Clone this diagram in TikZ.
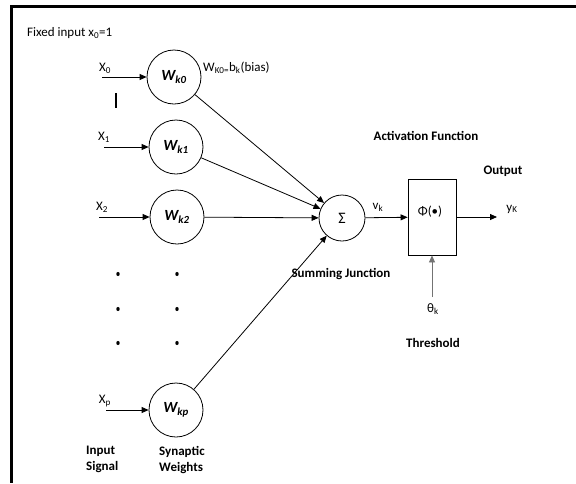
\documentclass[tikz,border=0pt]{standalone}
\usepackage{fontspec}
\setmainfont{Carlito}
\usetikzlibrary{arrows.meta}
\begin{document}
\begin{tikzpicture}[x=1pt,y=-1pt,
  font=\fontsize{13}{15}\selectfont,
  neuron/.style={draw, circle, minimum size=54pt, inner sep=0pt, line width=0.8pt, font=\fontsize{15.5}{17}\selectfont\bfseries\itshape},
  arr/.style={-{Triangle[length=7pt,width=6pt]}, line width=0.8pt},
  lbl/.style={inner sep=0pt},
  bl/.style={inner sep=0pt, font=\fontsize{13}{15}\selectfont\bfseries},
  border/.style={line width=2.6pt},
  dotmark/.style={fill=black}]
\useasboundingbox (0,0) rectangle (576,483);
% frame
\draw[border] (10,6.5) -- (576,6.5);
\draw[border] (11.5,5.2) -- (11.5,483);

% title
\node[lbl, anchor=west] (fixed) at (27,33) {Fixed input x\textsubscript{0}=1};

% synaptic weight neurons
\node[neuron] (w0) at (174,77) {W\textsubscript{k0}};
\node[neuron] (w1) at (176,147) {W\textsubscript{k1}};
\node[neuron] (w2) at (177,217) {W\textsubscript{k2}};
\node[neuron] (wp) at (176,410) {W\textsubscript{kp}};

% inputs
\coordinate (i0) at (102,77);
\coordinate (i1) at (104,147);
\coordinate (i2) at (99,217);
\coordinate (ip) at (106,410);
\draw[arr] (i0) -- (w0);
\draw[arr] (i1) -- (w1);
\draw[arr] (i2) -- (w2);
\draw[arr] (ip) -- (wp);
\node[lbl] (x0) at (105,68) {X\textsubscript{0}};
\node[lbl] (x1) at (104,137) {X\textsubscript{1}};
\node[lbl] (x2) at (102,207) {X\textsubscript{2}};
\node[lbl] (xp) at (105,401) {X\textsubscript{p}};

% stray bar
\draw[line width=1.6pt] (116,93) -- (116,108);

% bias label
\node[lbl, anchor=west] (bias) at (203,68) {W\textsubscript{K0=}b\textsubscript{k}(bias)};

% dots
\foreach \xx in {118,177}{
  \foreach \yy in {274,309,343}{
    \fill[dotmark] (\xx,\yy) ellipse (1.7pt and 2.1pt);
  }
}

% summing junction
\node[draw, circle, minimum size=46pt, inner sep=0pt, line width=0.8pt, font=\fontsize{16}{18}\selectfont] (sum) at (342,218) {Σ};
\draw[arr] (w0) -- (sum);
\draw[arr] (w1) -- (sum);
\draw[arr] (w2) -- (sum);
\draw[arr] (wp) -- (sum);
\node[bl] (sumlbl) at (341,274) {Summing Junction};

% activation box
\node[draw, rectangle, minimum width=48pt, minimum height=76pt, inner sep=0pt, line width=0.8pt] (box) at (432,217) {};
\node[lbl] (phi) at (430,212) {Φ(•)};
\draw[arr] (sum) -- (box);
\node[lbl] (vk) at (378,207) {v\textsubscript{k}};
\node[bl] (act) at (426,136) {Activation Function};

% output
\coordinate (out) at (497,217);
\draw[arr] (box.east) -- (out);
\node[lbl] (yk) at (512,209) {y\textsubscript{K}};
\node[bl] (outlbl) at (503,171) {Output};

% threshold
\coordinate (th) at (432,297);
\draw[arr, black!55] (th) -- (box.south);
\node[lbl] (theta) at (433,309) {θ\textsubscript{k}};
\node[bl] (thr) at (433,343) {Threshold};

% bottom labels
\node[bl, align=left, anchor=north west, font=\fontsize{13}{16}\selectfont\bfseries] (insig) at (86,446) {Input\\Signal};
\node[bl, align=left, anchor=north west, font=\fontsize{13}{16}\selectfont\bfseries] (synw) at (159,446) {Synaptic\\Weights};
\end{tikzpicture}
\end{document}
